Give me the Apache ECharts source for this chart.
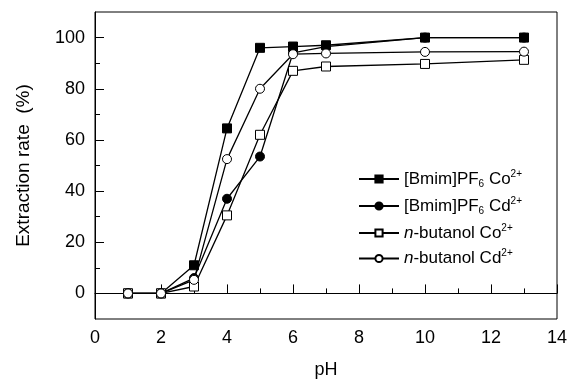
<!DOCTYPE html>
<html>
<head>
<meta charset="utf-8">
<script src="https://cdn.jsdelivr.net/npm/echarts@6/dist/echarts.min.js"></script>
<style>html,body{margin:0;padding:0;background:#fff}#c{width:571px;height:385px}</style>
</head>
<body>
<div id="c"></div>
<script>
var pH = [1, 2, 3, 4, 5, 6, 7, 10, 13];
var bmimCo = [0, 0, 11, 64.5, 96, 96.5, 97, 100, 100];
var bmimCd = [0, 0, 6, 37, 53.5, 94, 96.5, 100, 100];
var butCo = [0, 0, 2.7, 30.5, 62, 87, 88.7, 89.7, 91.3];
var butCd = [0, 0, 5.3, 52.5, 80, 93.5, 93.8, 94.4, 94.5];
var yLabels = [0, 20, 40, 60, 80, 100];
var yMinor = [10, 30, 50, 70, 90];
var names = ['[Bmim]PF6 Co2+', '[Bmim]PF6 Cd2+', 'n-butanol Co2+', 'n-butanol Cd2+'];

function pts(v) { return pH.map(function (x, i) { return [x, v[i]]; }); }
var FONT = 'Arial, "Liberation Sans", Helvetica, sans-serif';
var chart = echarts.init(document.getElementById('c'));
function mk(name, data, symbol, filled, z) {
  return {
    name: name, type: 'line', data: pts(data), symbol: symbol, symbolSize: 9, z: z,
    lineStyle: { color: '#000', width: 1.3 },
    itemStyle: { color: filled ? '#000' : '#fff', borderColor: '#000', borderWidth: 1 },
    emphasis: { disabled: true }
  };
}
var legendFmt = {
  '[Bmim]PF6 Co2+': '[Bmim]PF{sub|6} Co{sup|2+}',
  '[Bmim]PF6 Cd2+': '[Bmim]PF{sub|6} Cd{sup|2+}',
  'n-butanol Co2+': '{i|n}-butanol Co{sup|2+}',
  'n-butanol Cd2+': '{i|n}-butanol Cd{sup|2+}'
};
chart.setOption({
  animation: false,
  backgroundColor: '#fff',
  textStyle: { fontFamily: FONT },
  grid: { left: 95, right: 14, top: 12, bottom: 66, show: true, borderColor: '#000', borderWidth: 1, backgroundColor: 'transparent' },
  legend: {
    orient: 'vertical', left: 353, top: 164, itemWidth: 40, itemHeight: 9, itemGap: 7,
    data: names,
    formatter: function (n) { return legendFmt[n]; },
    textStyle: {
      fontFamily: FONT, fontSize: 17, color: '#000', lineHeight: 14,
      rich: {
        sub: { fontSize: 10, fontFamily: FONT, padding: [10, 0, 0, 0], color: '#000' },
        sup: { fontSize: 10, fontFamily: FONT, padding: [0, 0, 10, 0], color: '#000' },
        i: { fontSize: 17, fontStyle: 'italic', fontFamily: FONT, color: '#000' }
      }
    }
  },
  xAxis: {
    type: 'value', min: 0, max: 14, interval: 2,
    name: 'pH', nameLocation: 'middle', nameGap: 42,
    nameTextStyle: { fontSize: 18, color: '#000', fontFamily: FONT },
    axisLine: { show: true, lineStyle: { color: '#000', width: 1 } },
    axisTick: { show: true, inside: true, length: 9, lineStyle: { color: '#000' } },
    minorTick: { show: true, splitNumber: 2, length: 5, lineStyle: { color: '#000' } },
    axisLabel: { fontSize: 18, color: '#000', margin: 10, fontFamily: FONT },
    splitLine: { show: false }
  },
  yAxis: [{
    type: 'value', min: -10, max: 110,
    name: 'Extraction rate  (%)', nameLocation: 'middle', nameGap: 62,
    nameTextStyle: { fontSize: 19, color: '#000', fontFamily: FONT },
    axisLine: { show: true, lineStyle: { color: '#000', width: 1 } },
    axisTick: { show: true, inside: true, length: 9, customValues: yLabels, lineStyle: { color: '#000' } },
    axisLabel: { fontSize: 18, color: '#000', margin: 10, customValues: yLabels, fontFamily: FONT },
    splitLine: { show: false }
  }, {
    type: 'value', min: -10, max: 110, position: 'left',
    axisLine: { show: false },
    axisTick: { show: true, inside: true, length: 5, customValues: yMinor, lineStyle: { color: '#000' } },
    axisLabel: { show: false },
    splitLine: { show: false }
  }],
  series: [
    mk(names[0], bmimCo, 'rect', true, 2),
    mk(names[2], butCo, 'rect', false, 3),
    mk(names[1], bmimCd, 'circle', true, 4),
    mk(names[3], butCd, 'circle', false, 5)
  ]
});
</script>
</body>
</html>
